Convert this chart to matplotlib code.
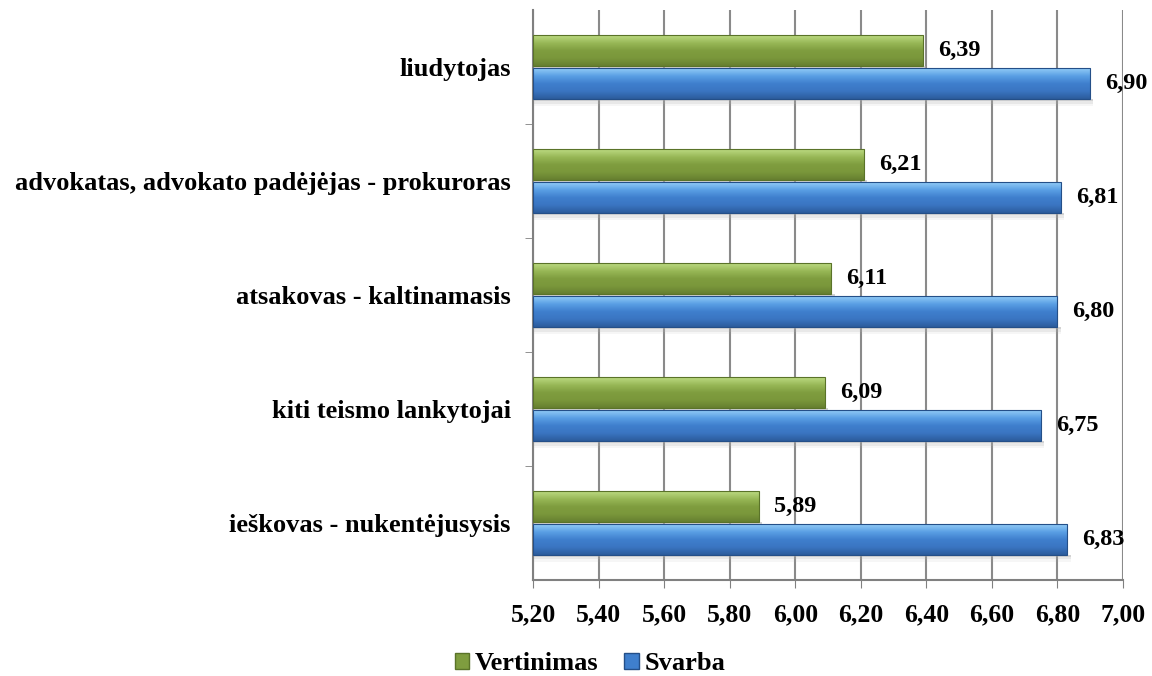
import numpy as np
import matplotlib.pyplot as plt
from matplotlib.patches import Patch
from matplotlib.colors import LinearSegmentedColormap

plt.rcParams['font.family'] = ['Liberation Serif', 'DejaVu Serif']
plt.rcParams['font.weight'] = 'bold'

categories = ['ieškovas - nukentėjusysis', 'kiti teismo lankytojai',
              'atsakovas - kaltinamasis',
              'advokatas, advokato padėjėjas - prokuroras', 'liudytojas']
vertinimas = [5.89, 6.09, 6.11, 6.21, 6.39]
svarba = [6.83, 6.75, 6.80, 6.81, 6.90]
xticks = [5.2, 5.4, 5.6, 5.8, 6.0, 6.2, 6.4, 6.6, 6.8, 7.0]

green_cmap = LinearSegmentedColormap.from_list(
    'g', ['#667f30', '#7a973b', '#7f9d3f', '#98b857', '#bcda82'])
blue_cmap = LinearSegmentedColormap.from_list(
    'b', ['#2c5c9c', '#3a75c2', '#3f7fcd', '#5a9fe4', '#92ccf7'])


def fmt(v):
    return ('%.2f' % v).replace('.', ',')


def gradient_bar(ax, y, width, h, x0, cmap, edge):
    grad = np.linspace(0, 1, 64).reshape(-1, 1)
    # soft shadow below the bar
    for k, a in enumerate([0.35, 0.2, 0.1]):
        ax.fill_between([x0, width + 0.01], y - h / 2 - 0.02 * (k + 1),
                        y - h / 2, color='#b0b0b0', alpha=a, lw=0, zorder=2)
    ax.imshow(grad, cmap=cmap, aspect='auto', origin='lower',
              extent=(x0, width, y - h / 2, y + h / 2), zorder=3)
    ax.add_patch(plt.Rectangle((x0, y - h / 2), width - x0, h, fill=False,
                               ec=edge, lw=0.8, zorder=4))


fig = plt.figure(figsize=(11.52, 6.76), dpi=100)
ax = fig.add_axes([0.4627, 0.142, 0.5121, 0.843])

x0 = 5.2
h = 0.27
off = 0.145
for i in range(len(categories)):
    gradient_bar(ax, i + off, vertinimas[i], h, x0, green_cmap, '#5a7329')
    gradient_bar(ax, i - off, svarba[i], h, x0, blue_cmap, '#244f88')
    ax.text(vertinimas[i] + 0.046, i + off, fmt(vertinimas[i]),
            va='center', ha='left', fontsize=17.5, fontweight='bold', zorder=5)
    ax.text(svarba[i] + 0.046, i - off, fmt(svarba[i]),
            va='center', ha='left', fontsize=17.5, fontweight='bold', zorder=5)

ax.set_xlim(5.2, 7.0)
ax.set_ylim(-0.5, 4.5)
ax.set_xticks(xticks)
ax.set_xticklabels([fmt(v) for v in xticks], fontsize=18.5, fontweight='bold')
ax.set_yticks(range(len(categories)))
ax.set_yticklabels(categories, fontsize=19, fontweight='bold')
ax.set_yticks(np.arange(0.5, len(categories) - 0.5, 1), minor=True)
ax.tick_params(axis='y', which='major', length=0, pad=16)
ax.tick_params(axis='y', which='minor', length=6, color='#808080', direction='out')
ax.tick_params(axis='x', length=6, color='#808080', direction='out', pad=11)
ax.grid(axis='x', color='#8a8a8a', lw=1.5, zorder=1)
ax.set_axisbelow(True)
for s in ['top', 'right']:
    ax.spines[s].set_visible(False)
for s in ['left', 'bottom']:
    ax.spines[s].set_color('#808080')
    ax.spines[s].set_linewidth(1.5)

handles = [Patch(facecolor='#7f9d3f', edgecolor='#5a7329', label='Vertinimas'),
           Patch(facecolor='#3f7fcd', edgecolor='#244f88', label='Svarba')]
fig.legend(handles=handles, loc='center', bbox_to_anchor=(0.512, 0.018),
           ncol=2, frameon=False, handlelength=0.55, handleheight=0.55,
           handletextpad=0.2, columnspacing=1.0, borderpad=0,
           prop={'weight': 'bold', 'size': 19})

fig.savefig('out.png', dpi=100)
